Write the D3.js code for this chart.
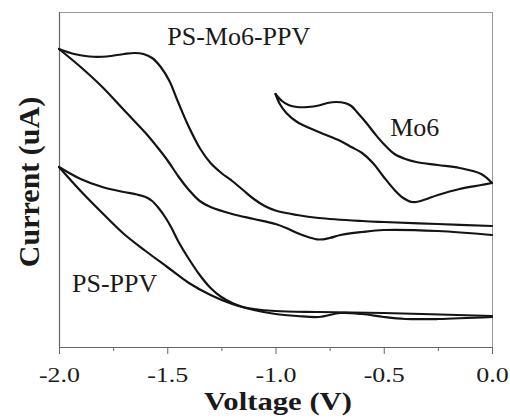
<!DOCTYPE html>
<html>
<head>
<meta charset="utf-8">
<script src="https://cdn.jsdelivr.net/npm/d3@7"></script>
<style>
  html, body { margin: 0; padding: 0; background: #fff; }
  svg { display: block; }
</style>
</head>
<body>
<svg id="chart" width="510" height="420"></svg>
<script>
// ---------- data (Voltage in V, Current in arbitrary units) ----------
const voltTicks = [-2.0, -1.5, -1.0, -0.5, 0.0];
const voltTickLabels = ["-2.0", "-1.5", "-1.0", "-0.5", "0.0"];
const voltMinorTicks = [-1.75, -1.25, -0.75, -0.25];

// PS-Mo6-PPV : branch with the hump (upper)
const psMo6PpvUpper = [
  [-2.00, 298], [-1.93, 293], [-1.86, 290.5], [-1.78, 290.5], [-1.70, 293], [-1.65, 294],
  [-1.61, 293], [-1.57, 289], [-1.53, 280], [-1.49, 266], [-1.45, 245], [-1.40, 220],
  [-1.35, 199], [-1.30, 184], [-1.25, 174], [-1.20, 166], [-1.15, 157], [-1.10, 148],
  [-1.05, 141], [-1.00, 136.5], [-0.90, 132], [-0.80, 129], [-0.60, 126], [-0.50, 125],
  [-0.25, 123], [0.00, 121]
];
// PS-Mo6-PPV : diagonal branch (lower)
const psMo6PpvLower = [
  [-2.00, 298], [-1.90, 280], [-1.80, 260], [-1.70, 237], [-1.60, 214], [-1.55, 201],
  [-1.50, 187], [-1.45, 171], [-1.40, 157], [-1.35, 146], [-1.30, 140], [-1.20, 133],
  [-1.10, 128], [-1.00, 123], [-0.95, 119], [-0.90, 114], [-0.85, 110], [-0.80, 107.5],
  [-0.75, 109], [-0.70, 112], [-0.60, 115], [-0.50, 117], [-0.25, 116], [0.00, 112]
];
// PS-PPV : branch with the hump (upper)
const psPpvUpper = [
  [-2.00, 180], [-1.90, 168], [-1.80, 160], [-1.70, 155], [-1.64, 152.5], [-1.60, 150],
  [-1.57, 146], [-1.54, 139], [-1.51, 130], [-1.48, 119], [-1.45, 106], [-1.40, 88],
  [-1.35, 72], [-1.30, 59], [-1.25, 50], [-1.20, 44], [-1.15, 40], [-1.10, 38],
  [-1.00, 36], [-0.80, 35], [-0.50, 34], [0.00, 31]
];
// PS-PPV : diagonal branch (lower)
const psPpvLower = [
  [-2.00, 180], [-1.90, 156], [-1.80, 134], [-1.70, 113], [-1.60, 96], [-1.50, 80],
  [-1.40, 64], [-1.30, 52], [-1.20, 43], [-1.10, 37], [-1.00, 33], [-0.90, 31],
  [-0.80, 30], [-0.70, 34], [-0.60, 33], [-0.50, 30], [-0.40, 28], [-0.25, 28], [0.00, 30]
];
// Mo6 : upper branch
const mo6Upper = [
  [-1.00, 253], [-0.97, 246], [-0.94, 242], [-0.90, 240], [-0.85, 240], [-0.80, 241.5],
  [-0.76, 244], [-0.72, 245], [-0.68, 244], [-0.65, 241], [-0.62, 234], [-0.58, 224],
  [-0.54, 213], [-0.50, 203], [-0.45, 193], [-0.40, 188], [-0.35, 185], [-0.25, 182],
  [-0.15, 179], [-0.05, 173], [0.00, 164]
];
// Mo6 : lower branch
const mo6Lower = [
  [-1.00, 253], [-0.98, 243], [-0.95, 234], [-0.90, 225], [-0.80, 215], [-0.70, 206],
  [-0.65, 200], [-0.60, 194], [-0.55, 184], [-0.50, 170], [-0.45, 157], [-0.41, 149],
  [-0.37, 145], [-0.33, 146], [-0.25, 152], [-0.15, 158], [-0.05, 162], [0.00, 164]
];

const curveLabels = ["PS-Mo6-PPV", "Mo6", "PS-PPV"];
const curveLabelV = [-1.50, -0.47, -1.94];
const curveLabelI = [302, 211, 55];

// ---------- layout ----------
const svg = d3.select("#chart");
const plotLeft = 59, plotRight = 492, plotTop = 12, plotBottom = 347;
const serif = "'Liberation Serif', 'Times New Roman', Times, serif";

const x = d3.scaleLinear().domain([-2.0, 0.0]).range([plotLeft, plotRight]);
const y = d3.scaleLinear().domain([0, 335]).range([plotBottom, plotTop]);

// frame (top / right lighter)
svg.append("line").attr("x1", plotLeft).attr("x2", plotRight).attr("y1", plotTop + 0.5).attr("y2", plotTop + 0.5)
  .attr("stroke", "#9a9a9a").attr("stroke-width", 1);
svg.append("line").attr("x1", plotRight + 0.5).attr("x2", plotRight + 0.5).attr("y1", plotTop).attr("y2", plotBottom)
  .attr("stroke", "#9a9a9a").attr("stroke-width", 1);

// left axis line (no ticks)
svg.append("line").attr("x1", plotLeft + 0.5).attr("x2", plotLeft + 0.5).attr("y1", plotTop).attr("y2", plotBottom)
  .attr("stroke", "#666").attr("stroke-width", 1.2);

// minor ticks
const minorAxis = svg.append("g").attr("transform", `translate(0,${plotBottom})`)
  .call(d3.axisBottom(x).tickValues(voltMinorTicks).tickFormat("").tickSizeInner(4).tickSizeOuter(0));
minorAxis.select(".domain").remove();
minorAxis.selectAll(".tick line").attr("stroke", "#666");

// major axis
const xAxis = svg.append("g").attr("transform", `translate(0,${plotBottom})`)
  .call(d3.axisBottom(x).tickValues(voltTicks).tickFormat((d, i) => voltTickLabels[i]).tickSizeInner(7).tickSizeOuter(0));
xAxis.select(".domain").attr("stroke", "#666").attr("stroke-width", 1.2);
xAxis.selectAll(".tick line").attr("stroke", "#666");
xAxis.selectAll(".tick text")
  .attr("y", 35).attr("dy", 0)
  .attr("fill", "#1a1a1a")
  .style("font-family", serif).style("font-size", "22px")
  .attr("transform", "scale(1.18,1)");

// axis titles
svg.append("text")
  .attr("transform", `translate(278,410) scale(1.18,1)`)
  .attr("text-anchor", "middle")
  .style("font-family", serif).style("font-size", "26px").style("font-weight", "bold")
  .attr("fill", "#1a1a1a")
  .text("Voltage (V)");

svg.append("text")
  .attr("transform", `translate(39,182) rotate(-90)`)
  .attr("text-anchor", "middle")
  .style("font-family", serif).style("font-size", "30px").style("font-weight", "bold")
  .attr("fill", "#1a1a1a")
  .text("Current (uA)");

// curves
const line = d3.line().x(d => x(d[0])).y(d => y(d[1])).curve(d3.curveCatmullRom.alpha(0.5));
const branches = [psMo6PpvUpper, psMo6PpvLower, psPpvUpper, psPpvLower, mo6Upper, mo6Lower];
svg.append("g").selectAll("path").data(branches).join("path")
  .attr("d", line)
  .attr("fill", "none")
  .attr("stroke", "#141414")
  .attr("stroke-width", 2.2)
  .attr("stroke-linejoin", "round")
  .attr("stroke-linecap", "round");

// curve labels
svg.append("g").selectAll("text").data(curveLabels).join("text")
  .attr("x", (d, i) => x(curveLabelV[i]))
  .attr("y", (d, i) => y(curveLabelI[i]))
  .style("font-family", serif).style("font-size", "26px")
  .attr("fill", "#1a1a1a")
  .text(d => d);
</script>
</body>
</html>
